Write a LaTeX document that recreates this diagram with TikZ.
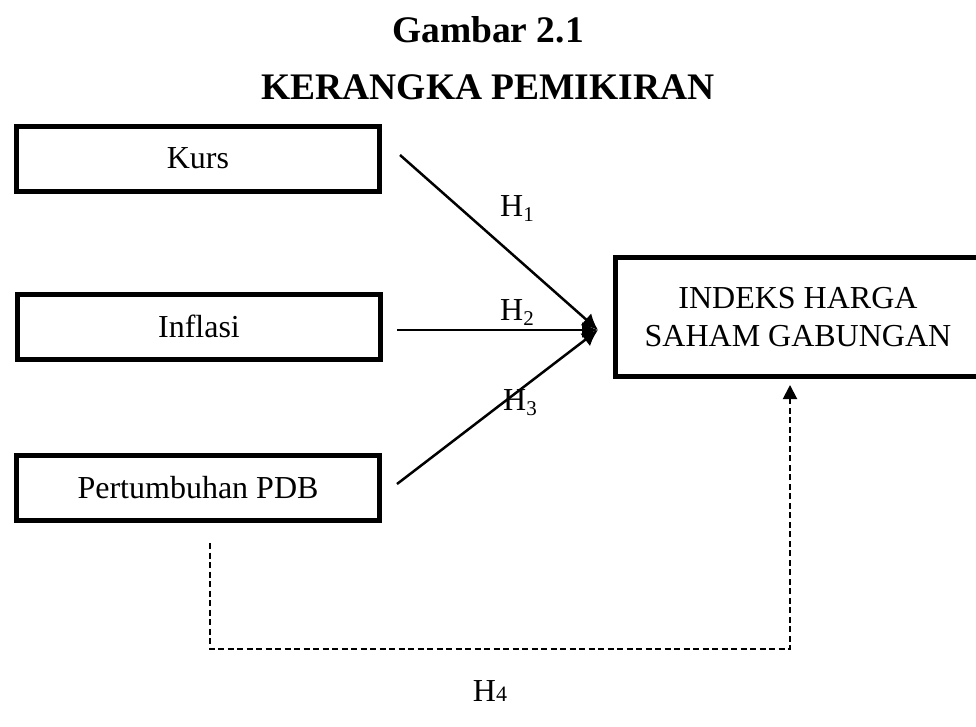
\documentclass[tikz,border=0pt]{standalone}
\usepackage{fontspec}
\setmainfont{Liberation Serif}
\usetikzlibrary{arrows.meta,calc}
\newcommand\hlab[1]{H\raisebox{-5pt}{\fontsize{21}{21}\selectfont #1}}
\begin{document}
\begin{tikzpicture}[x=1pt,y=-1pt,
  varbox/.style={draw,line width=5pt,inner sep=0pt,minimum width=363pt,minimum height=65pt,font=\fontsize{32}{38}\selectfont},
  bigbox/.style={draw,line width=5pt,inner sep=0pt,minimum width=365pt,minimum height=119pt,align=center,font=\fontsize{32}{38}\selectfont},
  conn/.style={line width=2.5pt,-{Latex[length=16pt,width=16pt]}},
  dconn/.style={line width=2pt,dash pattern=on 6pt off 3.5pt,-{Triangle[length=14pt,width=14pt]}},
  title/.style={anchor=base,font=\fontsize{37.5}{40}\selectfont\bfseries},
  hlabel/.style={font=\fontsize{32}{38}\selectfont,inner sep=0pt}]
\useasboundingbox (0,0) rectangle (976,726);
\clip (0,0) rectangle (976,726);
\fill[white] (0,0) rectangle (976,726);

\node[title] (t1) at (488,42.4) {Gambar 2.1};
\node[title] (t2) at (488,99.4) {KERANGKA PEMIKIRAN};

\node[varbox] (kurs) at (198,158.5) {Kurs};
\node[varbox] (infl) at (199,326.5) {Inflasi};
\node[varbox] (pdb) at (198,488) {Pertumbuhan PDB};
\node[bigbox] (ihsg) at (798,317) {INDEKS HARGA\\SAHAM GABUNGAN};

\coordinate (meet) at (598,330);
\coordinate (s1) at (400,155);
\coordinate (s2) at (397,330);
\coordinate (s3) at (397,484);
\draw[conn] (s1) -- (meet);
\draw[conn] (s2) -- (meet);
\draw[conn] (s3) -- (meet);

\coordinate (d0) at ([shift={(12pt,-20pt)}]pdb.south);
\coordinate (dmid) at (500,649);
\coordinate (d1) at (790,385);
\draw[dconn] (d0) |- (dmid) -| (d1);

\node[hlabel] (h1) at (517,209) {\hlab{1}};
\node[hlabel] (h2) at (517,313) {\hlab{2}};
\node[hlabel] (h3) at (520,403) {\hlab{3}};
\node[hlabel] (h4) at (490,691) {H{\fontsize{22}{22}\selectfont 4}};
\end{tikzpicture}
\end{document}
